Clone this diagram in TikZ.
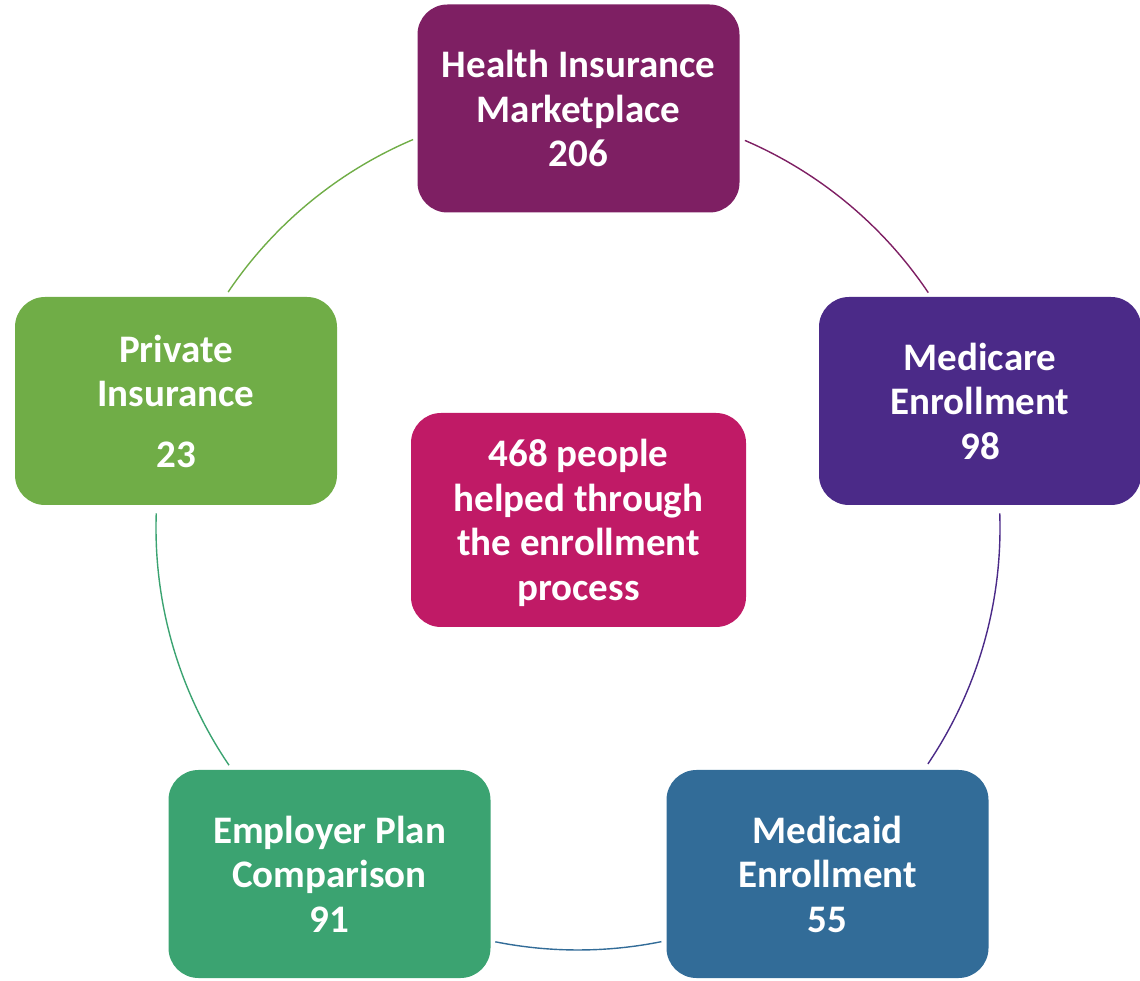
\documentclass[tikz,border=0pt]{standalone}
\usepackage{fontspec}
\setmainfont{Carlito}
\definecolor{cTop}{HTML}{7E1F63}
\definecolor{cMcare}{HTML}{4B2A88}
\definecolor{cMcaid}{HTML}{326C98}
\definecolor{cEmp}{HTML}{3BA371}
\definecolor{cPriv}{HTML}{70AD47}
\definecolor{cMid}{HTML}{C01A66}
\begin{document}
\begin{tikzpicture}[x=1pt,y=1pt,
  box/.style={rounded corners=30pt, inner sep=0pt, text=white, align=center,
    font=\fontsize{39}{44.5}\selectfont\bfseries, minimum width=322pt, minimum height=208pt},
  ring/.style={line width=1.4pt}]
\useasboundingbox (0,0) rectangle (1140,980);
\coordinate (c) at (578,452);
\def\R{422}
\node[box, fill=cTop] (top) at (578.5,871.5) {Health Insurance\\Marketplace\\206};
\node[box, fill=cMcare] (mcare) at (980,579) {Medicare\\Enrollment\\98};
\node[box, fill=cMcaid] (mcaid) at (827.5,106) {Medicaid\\Enrollment\\55};
\node[box, fill=cEmp] (emp) at (329.5,106) {Employer Plan\\Comparison\\91};
\node[box, fill=cPriv] (priv) at (176,579) {Private\\Insurance\\[16pt]23};
\node[box, fill=cMid, minimum width=335pt, minimum height=214pt] (mid) at (578.5,460) {};
\node[text=white, align=center, font=\fontsize{39}{44.5}\selectfont\bfseries] (midtext) at (578.5,457) {468 people\\helped through\\the enrollment\\process};
\draw[ring, cTop] (c) ++(66.7:\R) arc[start angle=66.7, end angle=33.9, radius=\R];
\draw[ring, cMcare] (c) ++(2:\R) arc[start angle=2, end angle=-34, radius=\R];
\draw[ring, cMcaid] (c) ++(-78.6:\R) arc[start angle=-78.6, end angle=-101.3, radius=\R];
\draw[ring, cEmp] (c) ++(-145.8:\R) arc[start angle=-145.8, end angle=-182, radius=\R];
\draw[ring, cPriv] (c) ++(146:\R) arc[start angle=146, end angle=113, radius=\R];
\end{tikzpicture}
\end{document}
